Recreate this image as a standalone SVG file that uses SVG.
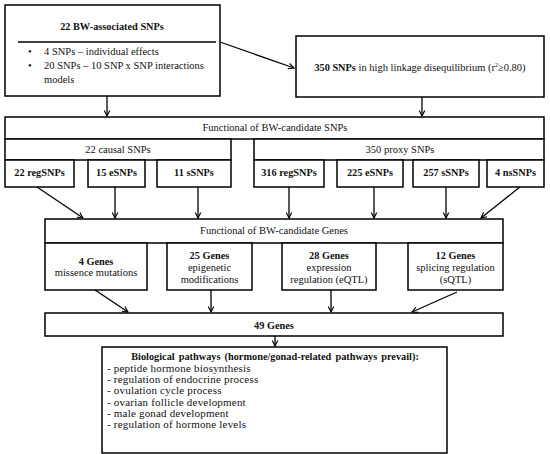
<svg xmlns="http://www.w3.org/2000/svg" width="550" height="454" viewBox="0 0 550 454">
<style>
.b{fill:#fff;stroke:#000;stroke-width:1.5}
text{font-family:"Liberation Serif","Times New Roman",serif;font-size:10.5px;fill:#111}
.c{text-anchor:middle}
.bd{font-weight:bold;font-size:10.3px}
.li{font-size:11px;letter-spacing:0.2px}
.con line{stroke:#000;stroke-width:1.3;marker-end:url(#ah)}
</style>
<defs>
<marker id="ah" viewBox="0 0 10 10" refX="9" refY="5" markerWidth="7" markerHeight="7" orient="auto" markerUnits="userSpaceOnUse">
<path d="M1,1 L9,5 L1,9" fill="none" stroke="#000" stroke-width="1.6"/>
</marker>
</defs>
<rect width="550" height="454" fill="#fff"/>
<g id="n-bw">
<rect class="b" x="5" y="5" width="215" height="91"/>
<line x1="18" y1="42" x2="216" y2="42" stroke="#000" stroke-width="1.5"/>
<text class="c bd" x="112" y="30">22 BW-associated SNPs</text>
<text x="28" y="55">•</text><text x="44" y="55">4 SNPs – individual effects</text>
<text x="28" y="69">•</text><text x="44" y="69">20 SNPs – 10 SNP x SNP interactions</text>
<text x="44" y="83">models</text>
</g>
<g id="n-ld">
<rect class="b" x="296" y="36" width="248" height="61"/>
<text class="c" x="420" y="71"><tspan class="bd">350 SNPs</tspan> in high linkage disequilibrium (r<tspan font-size="6" dy="-4">2</tspan><tspan dy="4">≥0.80)</tspan></text>
</g>
<g id="n-func-snps">
<rect class="b" x="5" y="117" width="539" height="22"/>
<text class="c" x="275" y="131">Functional of BW-candidate SNPs</text>
</g>
<g id="n-causal">
<rect class="b" x="5" y="139" width="226" height="21"/>
<text class="c" x="118" y="153">22 causal SNPs</text>
</g>
<g id="n-proxy">
<rect class="b" x="254" y="139" width="290" height="21"/>
<text class="c" x="400" y="153">350 proxy SNPs</text>
</g>
<g id="n-reg22"><rect class="b" x="5" y="160" width="69" height="27"/><text class="c bd" x="39.5" y="176">22 regSNPs</text></g>
<g id="n-e15"><rect class="b" x="88" y="160" width="57" height="27"/><text class="c bd" x="116.5" y="176">15 eSNPs</text></g>
<g id="n-s11"><rect class="b" x="157" y="160" width="74" height="27"/><text class="c bd" x="194" y="176">11 sSNPs</text></g>
<g id="n-reg316"><rect class="b" x="254" y="160" width="70" height="27"/><text class="c bd" x="289" y="176">316 regSNPs</text></g>
<g id="n-e225"><rect class="b" x="337" y="160" width="66" height="27"/><text class="c bd" x="370" y="176">225 eSNPs</text></g>
<g id="n-s257"><rect class="b" x="413" y="160" width="66" height="27"/><text class="c bd" x="446" y="176">257 sSNPs</text></g>
<g id="n-ns4"><rect class="b" x="487" y="160" width="57" height="27"/><text class="c bd" x="515.5" y="176">4 nsSNPs</text></g>
<g id="n-func-genes">
<rect class="b" x="45" y="219" width="458" height="24"/>
<text class="c" x="274" y="234">Functional of BW-candidate Genes</text>
</g>
<g id="n-g4"><rect class="b" x="45" y="243" width="102" height="47"/>
<text class="c bd" x="96" y="265">4 Genes</text><text class="c" x="96" y="276">missence mutations</text></g>
<g id="n-g25"><rect class="b" x="167" y="243" width="85" height="47"/>
<text class="c bd" x="209.5" y="259">25 Genes</text><text class="c" x="209.5" y="271">epigenetic</text><text class="c" x="209.5" y="283">modifications</text></g>
<g id="n-g28"><rect class="b" x="282" y="243" width="94" height="47"/>
<text class="c bd" x="329" y="259">28 Genes</text><text class="c" x="329" y="271">expression</text><text class="c" x="329" y="283">regulation (eQTL)</text></g>
<g id="n-g12"><rect class="b" x="408" y="243" width="95" height="47"/>
<text class="c bd" x="455.5" y="259">12 Genes</text><text class="c" x="455.5" y="271">splicing regulation</text><text class="c" x="455.5" y="283">(sQTL)</text></g>
<g id="n-g49"><rect class="b" x="45" y="313" width="458" height="23"/>
<text class="c bd" x="274" y="329">49 Genes</text></g>
<g id="n-path"><rect class="b" x="102" y="347" width="345" height="106"/>
<text class="c bd" x="275" y="360" word-spacing="1.5">Biological pathways (hormone/gonad-related pathways prevail):</text>
<text class="li" x="107" y="372">- peptide hormone biosynthesis</text>
<text class="li" x="107" y="383">- regulation of endocrine process</text>
<text class="li" x="107" y="394">- ovulation cycle process</text>
<text class="li" x="107" y="406">- ovarian follicle development</text>
<text class="li" x="107" y="417">- male gonad development</text>
<text class="li" x="107" y="428">- regulation of hormone levels</text>
</g>
<g class="con" id="connectors">
<line x1="220" y1="42" x2="294" y2="68"/>
<line x1="107" y1="96" x2="107" y2="116"/>
<line x1="422" y1="97" x2="422" y2="116"/>
<line x1="37" y1="187" x2="83" y2="218"/>
<line x1="115" y1="187" x2="115" y2="218"/>
<line x1="198" y1="187" x2="198" y2="218"/>
<line x1="289" y1="187" x2="289" y2="218"/>
<line x1="374" y1="187" x2="374" y2="218"/>
<line x1="446" y1="187" x2="446" y2="218"/>
<line x1="520" y1="187" x2="481" y2="218"/>
<line x1="95" y1="290" x2="128" y2="312"/>
<line x1="211" y1="290" x2="211" y2="312"/>
<line x1="331" y1="290" x2="331" y2="312"/>
<line x1="457" y1="292" x2="412" y2="312"/>
<line x1="275" y1="336" x2="275" y2="346"/>
</g>
</svg>
